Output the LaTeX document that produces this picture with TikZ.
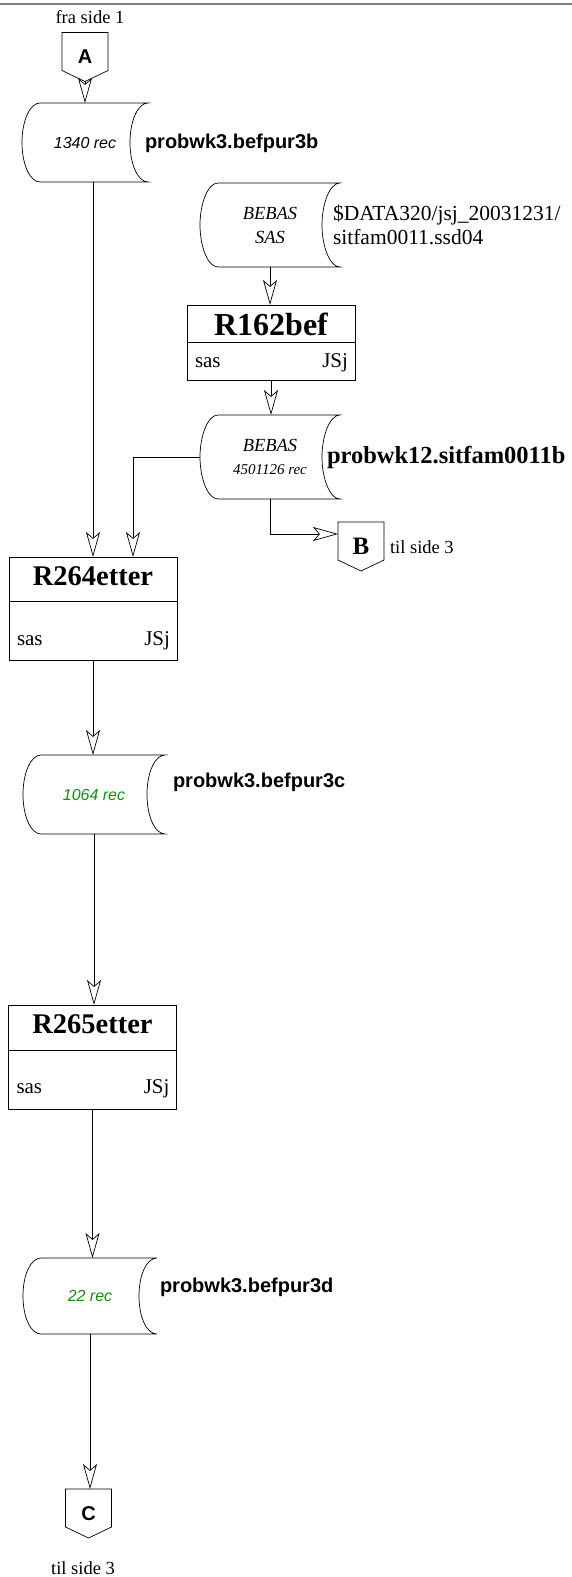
\documentclass[tikz,border=0pt]{standalone}
\usepackage{fontspec}
\setmainfont{Liberation Serif}
\setsansfont{Liberation Sans}
\usetikzlibrary{arrows.meta}
\definecolor{recgreen}{RGB}{20,140,20}

\begin{document}
\begin{tikzpicture}[
        x=1pt, y=1pt,
        every node/.style={inner sep=0pt, outer sep=0pt},
        line/.style={draw, line width=0.7pt},
        flow/.style={line, -{Stealth[open, length=25pt, width=14pt, inset=6pt]}},
        store/.style={minimum width=#1, minimum height=80pt, align=center},
        proc/.style={line, minimum width=168pt},
        offpage/.style={minimum width=46pt, minimum height=49pt},
        ptitle/.style={font=\bfseries\fontsize{28.5}{30}\selectfont},
        pinfo/.style={font=\fontsize{21}{24}\selectfont},
        fname/.style={font=\sffamily\bfseries\fontsize{20}{24}\selectfont, anchor=west},
        recs/.style={font=\sffamily\itshape\fontsize{16}{19}\selectfont, text=recgreen},
        side/.style={font=\fontsize{18.5}{22}\selectfont},
    ]
    \useasboundingbox (0,0) rectangle (572,-1577);
    \draw[gray, line width=1.5pt] (0,-4) -- (572,-4);

    % off-page connectors
    \node[offpage, font=\sffamily\bfseries\fontsize{20}{24}\selectfont] (A) at (85,-57) {A};
    \node[side] (Afra) at (90,-17) {fra side 1};
    \node[offpage, font=\bfseries\fontsize{25}{28}\selectfont] (B) at (361,-546.5) {B};
    \node[side, anchor=west] (Btil) at (390,-547) {til side 3};
    \node[offpage, font=\sffamily\bfseries\fontsize{20}{24}\selectfont] (C) at (88.5,-1513.5) {C};
    \node[side] (Ctil) at (83,-1568) {til side 3};
    \foreach \c in {A,B,C}
        \draw[line] (\c.north west) -- (\c.north east) -- ([yshift=11pt]\c.south east)
            -- (\c.south) -- ([yshift=11pt]\c.south west) -- cycle;

    % data sets
    \node[store=126pt, minimum height=79pt, recs, text=black] (S1) at (85,-142.5) {1340 rec};
    \node[fname] (S1n) at (145,-143) {probwk3.befpur3b};
    \node[store=140pt, minimum height=84pt, font=\itshape\fontsize{18.5}{24}\selectfont] (S2) at (270,-225) {BEBAS\\SAS};
    \node[anchor=west, align=left, font=\fontsize{21.5}{24}\selectfont] (S2n) at (333,-225) {\$DATA320/jsj\_20031231/\\sitfam0011.ssd04};
    \node[store=140pt, minimum height=84pt, font=\itshape\fontsize{15}{23}\selectfont] (S3) at (270,-457)
        {{\fontsize{18.5}{23}\selectfont BEBAS}\\4501126 rec};
    \node[anchor=west, font=\bfseries\fontsize{24.5}{28}\selectfont] (S3n) at (327,-457) {probwk12.sitfam0011b};
    \node[store=142pt, minimum height=79pt, recs] (S4) at (94,-794.5) {1064 rec};
    \node[fname] (S4n) at (173,-782) {probwk3.befpur3c};
    \node[store=134pt, minimum height=76pt, recs] (S5) at (90,-1296) {22 rec};
    \node[fname] (S5n) at (160,-1287) {probwk3.befpur3d};
    \foreach \s in {S1,S2,S3,S4,S5}
        \draw[line] ([xshift=18pt]\s.north west) -- (\s.north east)
            .. controls +(-10,0) and +(0,22) .. ([xshift=-18pt]\s.east)
            .. controls +(0,-22) and +(-10,0) .. (\s.south east)
            -- ([xshift=18pt]\s.south west)
            .. controls +(-10,0) and +(0,-22) .. (\s.west)
            .. controls +(0,22) and +(-10,0) .. ([xshift=18pt]\s.north west);

    % programs
    \node[proc, minimum height=75pt] (R162) at (271,-342.5) {};
    \node[ptitle, font=\bfseries\fontsize{32}{34}\selectfont] (R162t) at ([yshift=-19pt]R162.north) {R162bef};
    \draw[line] ([yshift=-37pt]R162.north west) -- ([yshift=-37pt]R162.north east);
    \node[pinfo, anchor=base west] (R162s) at ([shift={(8pt,13pt)}]R162.south west) {sas};
    \node[pinfo, anchor=base east] (R162j) at ([shift={(-7pt,13pt)}]R162.south east) {JSj};

    \node[proc, minimum height=103pt] (R264) at (93,-608.5) {};
    \node[ptitle] (R264t) at ([yshift=-19pt]R264.north) {R264etter};
    \draw[line] ([yshift=-44pt]R264.north west) -- ([yshift=-44pt]R264.north east);
    \node[pinfo, anchor=base west] (R264s) at ([shift={(8pt,15pt)}]R264.south west) {sas};
    \node[pinfo, anchor=base east] (R264j) at ([shift={(-7pt,15pt)}]R264.south east) {JSj};

    \node[proc, minimum height=104pt] (R265) at (92.5,-1057) {};
    \node[ptitle] (R265t) at ([yshift=-19pt]R265.north) {R265etter};
    \draw[line] ([yshift=-45pt]R265.north west) -- ([yshift=-45pt]R265.north east);
    \node[pinfo, anchor=base west] (R265s) at ([shift={(8pt,16pt)}]R265.south west) {sas};
    \node[pinfo, anchor=base east] (R265j) at ([shift={(-7pt,16pt)}]R265.south east) {JSj};

    % flow
    \draw[flow] (A.south) -- (A.south |- S1.north);
    \draw[flow] (S2.south) -- (S2.south |- R162.north);
    \draw[flow] (R162.south) -- (R162.south |- S3.north);
    \draw[flow] ([xshift=-0.5pt]S3.west) -| ([xshift=40pt]R264.north);
    \draw[flow] (S3.south) |- ([yshift=12.5pt]B.west);
    \draw[flow] (R264.north |- S1.south) -- (R264.north);
    \draw[flow] (R264.south) -- (R264.south |- S4.north);
    \draw[flow] (S4.south) -- (S4.south |- R265.north);
    \draw[flow] (R265.south) -- (R265.south |- S5.north);
    \draw[flow] (S5.south) -- (S5.south |- C.north);
\end{tikzpicture}
\end{document}
